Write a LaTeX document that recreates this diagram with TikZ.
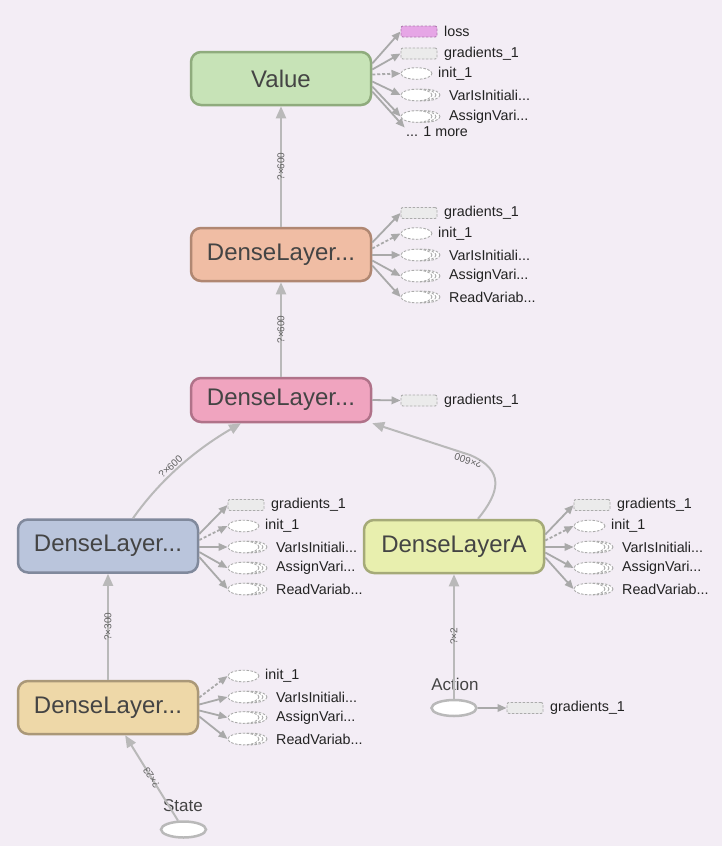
\documentclass[tikz,border=0pt]{standalone}
\usepackage{fontspec}
\setmainfont{Liberation Sans}
\usetikzlibrary{arrows.meta,calc,shapes.geometric}
\definecolor{bg}{HTML}{F3EDF5}
\definecolor{maintext}{HTML}{444444}
\definecolor{sattext}{HTML}{222222}
\definecolor{edgecol}{HTML}{B9B9B9}
\definecolor{satedge}{HTML}{A9A9A9}
\definecolor{satborder}{HTML}{ABABAB}
\definecolor{gradfill}{HTML}{EBEBEB}
\definecolor{lossfill}{HTML}{E6A6E6}
\definecolor{lossborder}{HTML}{B07AB0}
\definecolor{valfill}{HTML}{C7E3B7}\definecolor{valdraw}{HTML}{8FAB7D}
\definecolor{orfill}{HTML}{F0BDA4}\definecolor{ordraw}{HTML}{B08772}
\definecolor{pkfill}{HTML}{F0A4BF}\definecolor{pkdraw}{HTML}{B07289}
\definecolor{blfill}{HTML}{BAC5DC}\definecolor{bldraw}{HTML}{80899C}
\definecolor{ylfill}{HTML}{E8EFAE}\definecolor{yldraw}{HTML}{A5AA78}
\definecolor{tnfill}{HTML}{EED8A8}\definecolor{tndraw}{HTML}{AA9878}
\newcommand{\gradsat}[4]{%
  \node[gradbox] (#1) at ({#2+18},#3) {};
  \node[satlbl] (#1t) at ({#2+43},#3) {#4};}
\newcommand{\initsat}[4]{%
  \node[initell] (#1) at ({#2+15.5},#3) {};
  \node[satlbl] (#1t) at ({#2+37},#3) {#4};}
\newcommand{\sersat}[4]{%
  \draw[serell] ({#2+23.5},#3) ellipse (15.5 and 5.8);
  \draw[serell] ({#2+19.5},#3) ellipse (15.5 and 5.8);
  \node[initell] (#1) at ({#2+15.5},#3) {};
  \node[satlbl] (#1t) at ({#2+48},#3) {#4};}
\begin{document}
\begin{tikzpicture}[x=1pt,y=-1pt,
  mainbox/.style={draw, rounded corners=10pt, line width=2.5pt, minimum width=180pt,
    minimum height=53pt, inner sep=0pt, text=maintext, font=\fontsize{24}{28}\selectfont},
  mainedge/.style={draw=edgecol, line width=2pt, -{Triangle[length=12pt,width=10pt]}},
  elabel/.style={font=\fontsize{10}{11}\selectfont, text=black!62, inner sep=0.5pt, sloped, allow upside down},
  satarrow/.style={draw=satedge, line width=1.8pt, -{Triangle[length=9pt,width=7.5pt]}},
  satdash/.style={satarrow, dash pattern=on 3pt off 2pt},
  satlbl/.style={anchor=west, inner sep=0pt, text=sattext, font=\fontsize{14.3}{16}\selectfont},
  gradbox/.style={draw=satborder, fill=gradfill, line width=0.9pt, dash pattern=on 2.5pt off 1.5pt,
    rounded corners=2pt, minimum width=36pt, minimum height=11pt, inner sep=0pt},
  lossbox/.style={gradbox, draw=lossborder, fill=lossfill},
  initell/.style={ellipse, draw=satborder, fill=white, line width=0.9pt, dash pattern=on 2.5pt off 1.5pt,
    minimum width=31pt, minimum height=11.6pt, inner sep=0pt},
  serell/.style={draw=satborder, fill=white, line width=0.9pt, dash pattern=on 2.5pt off 1.5pt},
  inputell/.style={ellipse, draw=edgecol, fill=white, line width=2.5pt, minimum width=45pt,
    minimum height=16pt, inner sep=0pt},
  inputlbl/.style={text=maintext, font=\fontsize{17}{20}\selectfont, inner sep=0pt}]
\fill[bg] (0,0) rectangle (722,846);
\useasboundingbox (0,0) rectangle (722,846);

% main nodes
\node[mainbox, fill=valfill, draw=valdraw] (value) at (281,78.5) {Value};
\node[mainbox, fill=orfill, draw=ordraw] (orange) at (281,254.5) {DenseLayer...};
\node[mainbox, fill=pkfill, draw=pkdraw, minimum height=44pt] (pink) at (281,400) {DenseLayer...};
\node[mainbox, fill=blfill, draw=bldraw] (blue) at (108,546) {DenseLayer...};
\node[mainbox, fill=ylfill, draw=yldraw] (yellow) at (454,546.5) {DenseLayerA};
\node[mainbox, fill=tnfill, draw=tndraw] (tan) at (108,707.5) {DenseLayer...};
\node[inputell] (action) at (454,708) {};
\node[inputlbl] (actionlbl) at (455,684) {Action};
\node[inputell] (state) at (183.5,829.5) {};
\node[inputlbl] (statelbl) at (183,806) {State};

% main edges
\draw[mainedge] (orange) -- node[elabel]{?×600} (value);
\draw[mainedge] (pink) -- node[elabel]{?×600} (orange);
\draw[mainedge] (tan) -- node[elabel]{?×300} (blue);
\draw[mainedge] (action) -- node[elabel]{?×2} (yellow);
\draw[mainedge] (state) -- node[elabel]{?×23} (tan);
\coordinate (bstart) at ($(blue.north)+(25,0)$);
\coordinate (pinkin) at ($(pink.south)+(-40,0)$);
\draw[mainedge] (bstart) .. controls (160,480) and (195,450) .. node[elabel, pos=0.45, above=1pt]{?×600} (pinkin);
\coordinate (ystart) at ($(yellow.north)+(24,0)$);
\coordinate (ybend) at (470,455);
\coordinate (pinkin2) at ($(pink.south east)+(0,0)$);
\draw[mainedge] (ystart) .. controls (500,492) and (505,470) .. (ybend) -- node[elabel, pos=0.0, above=1pt]{?×600} (pinkin2);

% Value satellites
\node[lossbox] (vloss) at (419,31.5) {};
\node[satlbl] (vlosst) at (444,31.5) {loss};
\gradsat{vgrad}{401}{53.5}{gradients\_1}
\initsat{vinit}{401}{73.5}{init\_1}
\sersat{vvar}{401}{95}{VarIsInitiali...}
\sersat{vass}{401}{116.5}{AssignVari...}
\node[satlbl] (vmore) at (406,132) {... 1 more};
\draw[satarrow] ($(value.east)+(0,-15)$) -- (vloss.west);
\draw[satarrow] ($(value.east)+(0,-9)$) -- (vgrad.west);
\draw[satdash] ($(value.east)+(0,-4)$) -- (vinit.west);
\draw[satarrow] ($(value.east)+(0,3)$) -- (vvar.west);
\draw[satarrow] ($(value.east)+(0,8)$) -- (vass.west);
\draw[satarrow, shorten >=2pt] ($(value.east)+(0,13)$) -- ($(vmore.west)+(0,-3)$);

% Orange satellites
\gradsat{ograd}{401}{213}{gradients\_1}
\initsat{oinit}{401}{233.5}{init\_1}
\sersat{ovar}{401}{255}{VarIsInitiali...}
\sersat{oass}{401}{276}{AssignVari...}
\sersat{oread}{401}{297}{ReadVariab...}
\draw[satarrow] ($(orange.east)+(0,-12)$) -- (ograd.west);
\draw[satdash] ($(orange.east)+(0,-6)$) -- (oinit.west);
\draw[satarrow] ($(orange.east)+(0,0.5)$) -- (ovar.west);
\draw[satarrow] ($(orange.east)+(0,6)$) -- (oass.west);
\draw[satarrow] ($(orange.east)+(0,11)$) -- (oread.west);

% Pink satellite
\gradsat{pgrad}{401}{400.5}{gradients\_1}
\draw[satarrow] (pink.east) -- (pgrad.west);

% Blue satellites
\gradsat{bgrad}{228}{505}{gradients\_1}
\initsat{binit}{228}{526}{init\_1}
\sersat{bvar}{228}{547}{VarIsInitiali...}
\sersat{bass}{228}{568}{AssignVari...}
\sersat{bread}{228}{589}{ReadVariab...}
\draw[satarrow] ($(blue.east)+(0,-12)$) -- (bgrad.west);
\draw[satdash] ($(blue.east)+(0,-6)$) -- (binit.west);
\draw[satarrow] ($(blue.east)+(0,1)$) -- (bvar.west);
\draw[satarrow] ($(blue.east)+(0,6)$) -- (bass.west);
\draw[satarrow] ($(blue.east)+(0,11)$) -- (bread.west);

% Yellow satellites
\gradsat{ygrad}{574}{505}{gradients\_1}
\initsat{yinit}{574}{526}{init\_1}
\sersat{yvar}{574}{547}{VarIsInitiali...}
\sersat{yass}{574}{568}{AssignVari...}
\sersat{yread}{574}{589}{ReadVariab...}
\draw[satarrow] ($(yellow.east)+(0,-12)$) -- (ygrad.west);
\draw[satdash] ($(yellow.east)+(0,-6)$) -- (yinit.west);
\draw[satarrow] ($(yellow.east)+(0,0.5)$) -- (yvar.west);
\draw[satarrow] ($(yellow.east)+(0,6)$) -- (yass.west);
\draw[satarrow] ($(yellow.east)+(0,11)$) -- (yread.west);

% Tan satellites
\initsat{tinit}{228}{676}{init\_1}
\sersat{tvar}{228}{697}{VarIsInitiali...}
\sersat{tass}{228}{717.5}{AssignVari...}
\sersat{tread}{228}{739}{ReadVariab...}
\draw[satdash] ($(tan.east)+(0,-10)$) -- (tinit.west);
\draw[satarrow] ($(tan.east)+(0,-3)$) -- (tvar.west);
\draw[satarrow] ($(tan.east)+(0,3)$) -- (tass.west);
\draw[satarrow] ($(tan.east)+(0,9)$) -- (tread.west);

% Action satellite
\gradsat{agrad}{507}{708}{gradients\_1}
\draw[satarrow] (action) -- (agrad.west);
\end{tikzpicture}
\end{document}
